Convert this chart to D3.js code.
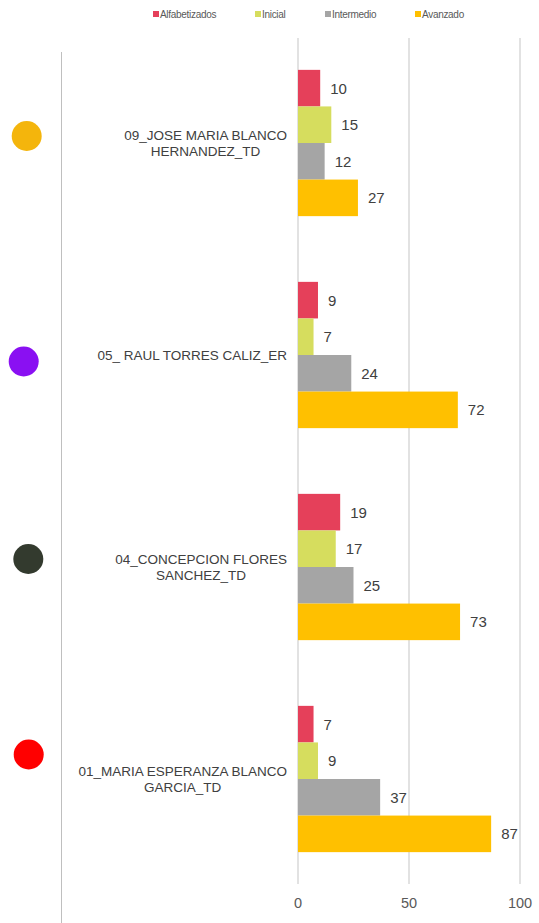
<!DOCTYPE html>
<html>
<head>
<meta charset="utf-8">
<script src="https://cdn.jsdelivr.net/npm/d3@7"></script>
<style>
  body { margin: 0; background: #fff; }
  svg { display: block; font-family: "Liberation Sans", Arial, sans-serif; }
</style>
</head>
<body>
<svg id="chart" width="539" height="923"></svg>
<script>
const categories = [
  "09_JOSE MARIA BLANCO\nHERNANDEZ_TD",
  "05_ RAUL TORRES CALIZ_ER",
  "04_CONCEPCION FLORES\nSANCHEZ_TD",
  "01_MARIA ESPERANZA BLANCO\nGARCIA_TD"
];
const seriesNames = ["Alfabetizados", "Inicial", "Intermedio", "Avanzado"];
const seriesColors = ["#E5405A", "#D6DD5E", "#A5A5A5", "#FFC000"];
const alfabetizados = [10, 9, 19, 7];
const inicial = [15, 7, 17, 9];
const intermedio = [12, 24, 25, 37];
const avanzado = [27, 72, 73, 87];
const xTicks = [0, 50, 100];
const dotColors = ["#F4B50C", "#8A10F2", "#333A2E", "#FF0000"];

const values = [alfabetizados, inicial, intermedio, avanzado];

const svg = d3.select("#chart");
const width = 539, height = 923;

const x = d3.scaleLinear().domain([0, 100]).range([298, 520]);
const y = d3.scaleBand().domain(d3.range(categories.length)).range([37, 885]).paddingInner(0.31).paddingOuter(0.155);
const ySub = d3.scaleBand().domain(d3.range(seriesNames.length)).range([0, y.bandwidth()]);

// legend
const legendX = [153, 255, 325, 415];
const legend = svg.append("g");
seriesNames.forEach((name, i) => {
  legend.append("rect")
    .attr("x", legendX[i]).attr("y", 11)
    .attr("width", 6).attr("height", 6)
    .attr("fill", seriesColors[i]);
  legend.append("text")
    .attr("x", legendX[i] + 7).attr("y", 18)
    .attr("font-size", 10)
    .attr("fill", "#595959")
    .attr("letter-spacing", -0.3)
    .text(name);
});

// left decoration line
svg.append("line")
  .attr("x1", 61.5).attr("x2", 61.5)
  .attr("y1", 52).attr("y2", height)
  .attr("stroke", "#BFBFBF").attr("stroke-width", 1);

// gridlines
svg.append("g").selectAll("line")
  .data(xTicks)
  .enter()
  .append("line")
  .attr("x1", d => x(d)).attr("x2", d => x(d))
  .attr("y1", 38).attr("y2", 884)
  .attr("stroke", "#D9D9D9").attr("stroke-width", 1.5);

// tick labels
svg.append("g").selectAll("text")
  .data(xTicks)
  .enter()
  .append("text")
  .attr("x", d => x(d)).attr("y", 908)
  .attr("text-anchor", "middle")
  .attr("font-size", 14.5)
  .attr("fill", "#595959")
  .text(d => d);

// bars
const groups = svg.append("g").selectAll("g")
  .data(categories.map((c, i) => i))
  .enter()
  .append("g")
  .attr("transform", i => `translate(0,${y(i)})`);

groups.each(function(ci) {
  const g = d3.select(this);
  seriesNames.forEach((s, si) => {
    const v = values[si][ci];
    g.append("rect")
      .attr("x", x(0))
      .attr("y", ySub(si))
      .attr("width", x(v) - x(0))
      .attr("height", ySub.bandwidth())
      .attr("fill", seriesColors[si]);
    g.append("text")
      .attr("x", x(v) + 10)
      .attr("y", ySub(si) + ySub.bandwidth() / 2 + 5.5)
      .attr("font-size", 15)
      .attr("fill", "#404040")
      .text(v);
  });
});

// category labels, centred lines, block right-aligned
categories.forEach((c, i) => {
  const lines = c.split("\n");
  const cy = y(i) + y.bandwidth() / 2;
  const t = svg.append("text")
    .attr("font-size", 13.5)
    .attr("fill", "#404040")
    .attr("text-anchor", "middle");
  const spans = lines.map((ln, li) => t.append("tspan")
    .attr("y", cy + 5 + (li - (lines.length - 1) / 2) * 15.7)
    .text(ln));
  const maxW = d3.max(spans, s => s.node().getComputedTextLength());
  spans.forEach(s => s.attr("x", 287 - maxW / 2));
});

// colored dots
const dotOffsets = [[26.7, -7], [23.7, 6.5], [28.3, -8], [28.7, -24.5]];
svg.append("g").selectAll("circle")
  .data(dotColors)
  .enter()
  .append("circle")
  .attr("cx", (d, i) => dotOffsets[i][0])
  .attr("cy", (d, i) => y(i) + y.bandwidth() / 2 + dotOffsets[i][1])
  .attr("r", 15)
  .attr("fill", d => d);
</script>
</body>
</html>
